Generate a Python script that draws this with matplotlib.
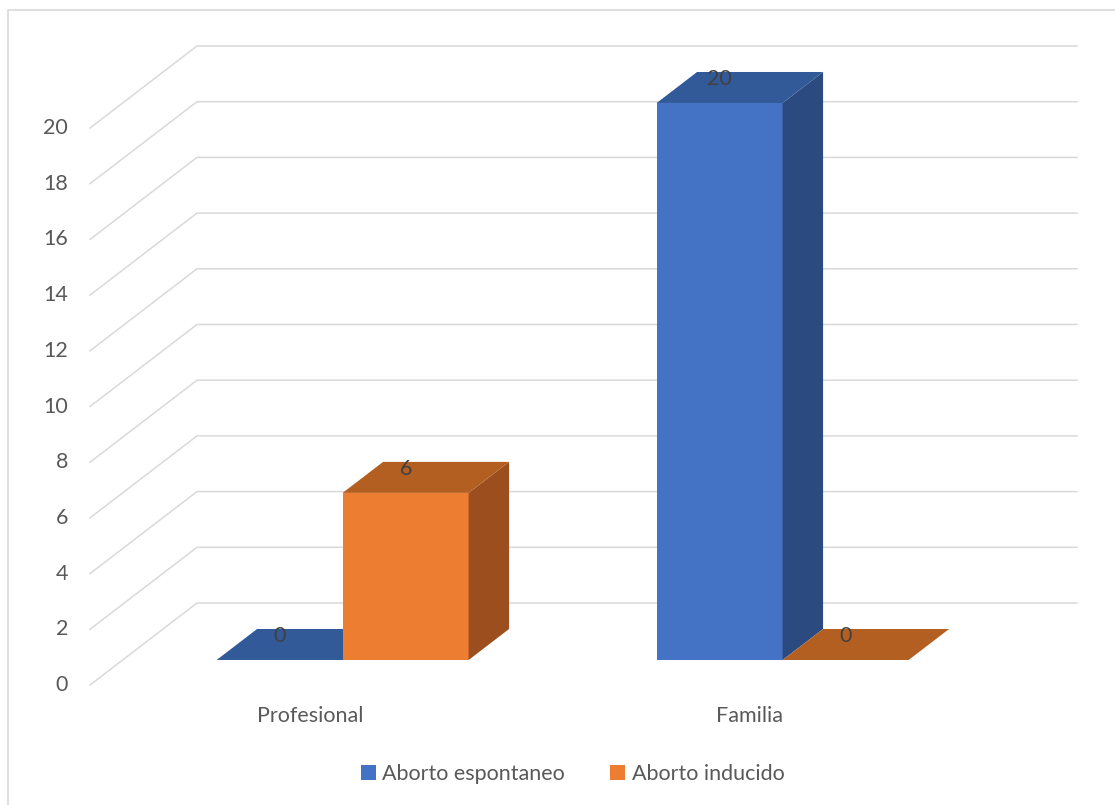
import matplotlib
matplotlib.use("Agg")
import matplotlib.pyplot as plt
from matplotlib.patches import Polygon, Rectangle

categories = ["Profesional", "Familia"]
series_names = ["Aborto espontaneo", "Aborto inducido"]
espontaneo = [0, 20]
inducido = [6, 0]
tick_values = [0, 2, 4, 6, 8, 10, 12, 14, 16, 18, 20]

front_colors = ["#4472C4", "#ED7D31"]
top_colors = ["#335A98", "#B45F22"]
side_colors = ["#2A4A80", "#9C4E1E"]
grid_color = "#D9D9D9"
text_color = "#595959"
label_color = "#404040"
FS = 15.5

W, H = 1115, 805
fig = plt.figure(figsize=(W / 100, H / 100), dpi=100)
ax = fig.add_axes([0, 0, 1, 1])
ax.set_axis_off()

# pixel layout -> data units (x: category units, y: value units)
px0, pcat = 90.0, 440.0         # front floor left px, px per category
py0, pval = 685.0, 27.85        # front floor px (from top), px per value unit
ax.set_xlim(-px0 / pcat, (W - px0) / pcat)
ax.set_ylim((py0 - H) / pval, py0 / pval)

DX, DY = 107.0 / pcat, 82.0 / pval   # full depth offset
f1, f2 = 0.305, 0.683                 # bar depth range
gap = 94.0 / pcat
bw = 126.0 / pcat
ncat = len(categories)

# gridlines: diagonal on side wall + horizontal on back wall
for v in tick_values:
    ax.plot([0, DX, ncat + DX], [v, v + DY, v + DY], color=grid_color, lw=1.1,
            solid_joinstyle="miter", zorder=1)
    ax.text(-22 / pcat, v, str(v), ha="right", va="center", fontsize=FS,
            color=text_color, family="Lato")

for i, c in enumerate(categories):
    ax.text(i + 0.5, -31 / pval, c, ha="center", va="center", fontsize=FS,
            color=text_color, family="Lato")

series = [espontaneo, inducido]
for i in range(ncat):
    for s, vals in enumerate(series):
        v = vals[i]
        x0 = i + gap + s * bw
        xa, ya = x0 + f1 * DX, f1 * DY
        xb, yb = x0 + f2 * DX, f2 * DY
        z = 3 + s
        if v > 0:
            ax.add_patch(Polygon([(xa, ya), (xa + bw, ya), (xa + bw, ya + v), (xa, ya + v)],
                                 closed=True, fc=front_colors[s], ec="none", zorder=z))
            ax.add_patch(Polygon([(xa + bw, ya), (xb + bw, yb), (xb + bw, yb + v), (xa + bw, ya + v)],
                                 closed=True, fc=side_colors[s], ec="none", zorder=z))
        ax.add_patch(Polygon([(xa, ya + v), (xa + bw, ya + v), (xb + bw, yb + v), (xb, yb + v)],
                             closed=True, fc=top_colors[s], ec="none", zorder=z))
        ax.text(xa + bw / 2, yb + v - 7 / pval, str(v), ha="center", va="center",
                fontsize=FS, color=label_color, family="Lato", zorder=10)

# legend
handles = [Rectangle((0, 0), 1, 1, fc=front_colors[k], ec="none") for k in range(2)]
fig.legend(handles, series_names, loc="center", bbox_to_anchor=(0.5135, 1 - 774 / H),
           ncol=2, frameon=False, handlelength=0.7, handleheight=0.7, handletextpad=0.3,
           columnspacing=2.1, prop={"family": "Lato", "size": FS}, labelcolor=text_color)

# chart border
fig.add_artist(Rectangle((8 / W, -0.1), 1.2, 1 - 10 / H + 0.1, transform=fig.transFigure,
                         fill=False, ec="#D9D9D9", lw=1.2))

fig.savefig("out.png", dpi=100, facecolor="white")
